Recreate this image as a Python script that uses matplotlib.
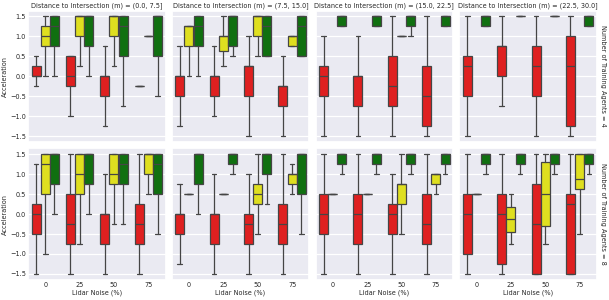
import matplotlib
matplotlib.use("Agg")
import matplotlib.pyplot as plt
import seaborn as sns

# Box statistics: (whislo, q1, median, q3, whishi).
# One list per (hue, number of agents); outer index = distance bin, inner = lidar noise.
NOISE_LEVELS = ["0", "25", "50", "75"]
DISTANCE_BINS = ["(0.0, 7.5]", "(7.5, 15.0]", "(15.0, 22.5]", "(22.5, 30.0]"]
AGENTS = [4, 8]
HUE_COLORS = ["#df2020", "#dfdf20", "#107010"]

RED_4 = [
    [(-0.25, 0.0, 0.0, 0.25, 0.5), (-1.0, -0.25, 0.0, 0.5, 0.5),
     (-1.25, -0.5, 0.0, 0.0, 0.75), (-0.25, -0.25, -0.25, -0.25, -0.25)],
    [(-1.25, -0.5, 0.0, 0.0, 0.75), (-1.0, -0.5, 0.0, 0.0, 0.75),
     (-1.5, -0.5, 0.25, 0.25, 1.0), (-1.5, -0.75, -0.25, -0.25, 0.5)],
    [(-1.5, -0.5, 0.0, 0.25, 1.0), (-1.5, -0.75, 0.0, 0.0, 1.0),
     (-1.5, -0.75, -0.25, 0.5, 1.5), (-1.5, -1.25, -0.5, 0.25, 1.5)],
    [(-1.5, -0.5, 0.25, 0.5, 1.5), (-0.75, 0.0, 0.75, 0.75, 1.5),
     (-1.5, -0.5, 0.25, 0.75, 1.5), (-1.5, -1.25, 0.25, 1.0, 1.5)],
]
YELLOW_4 = [
    [(0.0, 0.75, 1.0, 1.25, 1.5), (0.25, 1.0, 1.5, 1.5, 1.5),
     (0.25, 1.0, 1.5, 1.5, 1.5), (1.0, 1.0, 1.0, 1.0, 1.0)],
    [(0.0, 0.75, 1.25, 1.25, 1.25), (0.25, 0.625, 1.0, 1.0, 1.5),
     (0.5, 1.0, 1.5, 1.5, 1.5), (0.75, 0.75, 1.0, 1.0, 1.0)],
    [None, None, (1.0, 1.0, 1.0, 1.0, 1.0), None],
    [None, None, None, None],
]
GREEN_4 = [
    [(0.0, 0.75, 1.25, 1.5, 1.5), (0.0, 0.75, 1.5, 1.5, 1.5),
     (-0.75, 0.5, 1.25, 1.5, 1.5), (-0.5, 0.5, 1.5, 1.5, 1.5)],
    [(0.0, 0.75, 1.25, 1.5, 1.5), (0.5, 0.75, 1.5, 1.5, 1.5),
     (0.5, 0.5, 1.25, 1.5, 1.5), (0.5, 0.5, 1.25, 1.5, 1.5)],
    [(1.25, 1.25, 1.5, 1.5, 1.5), (1.25, 1.25, 1.5, 1.5, 1.5),
     (1.0, 1.25, 1.5, 1.5, 1.5), (1.25, 1.25, 1.5, 1.5, 1.5)],
    [(1.25, 1.25, 1.5, 1.5, 1.5), (1.5, 1.5, 1.5, 1.5, 1.5),
     (1.5, 1.5, 1.5, 1.5, 1.5), (1.25, 1.25, 1.5, 1.5, 1.5)],
]
RED_8 = [
    [(-1.5, -0.5, 0.0, 0.25, 1.25), (-1.5, -0.75, -0.25, 0.5, 1.5),
     (-1.5, -0.75, 0.0, 0.0, 1.0), (-1.5, -0.75, -0.25, 0.25, 1.5)],
    [(-1.25, -0.5, 0.0, 0.0, 0.75), (-1.5, -0.75, 0.0, 0.0, 1.0),
     (-1.5, -0.75, -0.25, 0.0, 1.0), (-1.5, -0.75, -0.25, 0.25, 1.5)],
    [(-1.5, -0.5, 0.0, 0.5, 1.5), (-1.5, -0.75, 0.0, 0.5, 1.5),
     (-1.5, -0.5, 0.0, 0.25, 1.0), (-1.5, -0.75, -0.25, 0.5, 1.5)],
    [(-1.5, -1.0, 0.0, 0.5, 1.5), (-1.5, -1.25, 0.0, 0.5, 1.5),
     (-1.5, -1.5, -0.25, 0.75, 1.5), (-1.5, -1.5, 0.25, 0.5, 1.5)],
]
YELLOW_8 = [
    [(-1.0, 0.5, 1.25, 1.5, 1.5), (-0.75, 0.5, 1.0, 1.5, 1.5),
     (-0.25, 0.75, 1.0, 1.5, 1.5), (0.5, 1.0, 1.5, 1.5, 1.5)],
    [(0.5, 0.5, 0.5, 0.5, 0.5), (0.5, 0.5, 0.5, 0.5, 0.5),
     (-0.5, 0.25, 0.5, 0.75, 1.5), (0.5, 0.75, 1.0, 1.0, 1.25)],
    [(0.5, 0.5, 0.5, 0.5, 0.5), (0.5, 0.5, 0.5, 0.5, 0.5),
     (-0.5, 0.25, 0.75, 0.75, 1.5), (0.5, 0.75, 1.0, 1.0, 1.0)],
    [(0.5, 0.5, 0.5, 0.5, 0.5), (-0.75, -0.44, -0.12, 0.19, 0.5),
     (-0.75, -0.3, 0.5, 1.3, 1.5), (-0.5, 0.625, 0.875, 1.5, 1.5)],
]
GREEN_8 = [
    [(0.0, 0.75, 1.5, 1.5, 1.5), (0.0, 0.75, 1.5, 1.5, 1.5),
     (-0.25, 0.75, 1.25, 1.5, 1.5), (-0.5, 0.5, 1.25, 1.5, 1.5)],
    [(0.0, 0.75, 1.5, 1.5, 1.5), (1.0, 1.25, 1.5, 1.5, 1.5),
     (0.25, 1.0, 1.5, 1.5, 1.5), (-0.5, 0.5, 1.5, 1.5, 1.5)],
    [(1.0, 1.25, 1.5, 1.5, 1.5)] * 4,
    [(1.0, 1.25, 1.5, 1.5, 1.5)] * 4,
]

ROWS = [[RED_4, YELLOW_4, GREEN_4], [RED_8, YELLOW_8, GREEN_8]]

sns.set_theme(style="darkgrid")
plt.rcParams["font.family"] = ["DejaVu Sans"]
FS = 4.7
LINE = "#454545"

fig, axes = plt.subplots(2, 4, figsize=(6.09, 3.0), dpi=100, sharex=True, sharey=True)
fig.subplots_adjust(left=0.046, right=0.980, top=0.965, bottom=0.067,
                    wspace=0.045, hspace=0.048)

width = 0.8 / 3
for r, hue_sets in enumerate(ROWS):
    for c in range(4):
        ax = axes[r, c]
        for h, (data, color) in enumerate(zip(hue_sets, HUE_COLORS)):
            stats, pos = [], []
            for i, s in enumerate(data[c]):
                if s is None:
                    continue
                stats.append(dict(whislo=s[0], q1=s[1], med=s[2], q3=s[3], whishi=s[4], fliers=[]))
                pos.append(i + (h - 1) * width)
            if not stats:
                continue
            ax.bxp(stats, positions=pos, widths=width * 0.98, patch_artist=True,
                   showfliers=False, capwidths=width * 0.5,
                   boxprops=dict(facecolor=color, edgecolor=LINE, linewidth=0.9),
                   whiskerprops=dict(color=LINE, linewidth=0.9),
                   capprops=dict(color=LINE, linewidth=0.9),
                   medianprops=dict(color=LINE, linewidth=0.9),
                   manage_ticks=False)
        ax.set_xlim(-0.5, 3.5)
        ax.set_ylim(-1.65, 1.65)
        ax.set_yticks([-1.5, -1.0, -0.5, 0.0, 0.5, 1.0, 1.5])
        ax.set_xticks(range(4))
        ax.set_xticklabels(NOISE_LEVELS)
        ax.xaxis.grid(False)
        ax.yaxis.grid(True, color="white", linewidth=0.9)
        ax.tick_params(labelsize=FS, pad=1.5, length=0)
        if r == 0:
            ax.set_title(f"Distance to Intersection (m) = {DISTANCE_BINS[c]}",
                         fontsize=FS, pad=2.5)
            ax.tick_params(labelbottom=False)
        else:
            ax.set_xlabel("Lidar Noise (%)", fontsize=FS, labelpad=1)
        if c == 0:
            ax.set_ylabel("Acceleration", fontsize=FS, labelpad=1.5)
    axes[r, 3].text(1.025, 0.5, f"Number of Training Agents = {AGENTS[r]}",
                    transform=axes[r, 3].transAxes, rotation=270,
                    ha="left", va="center", fontsize=FS)

fig.savefig("out.png", dpi=100)
